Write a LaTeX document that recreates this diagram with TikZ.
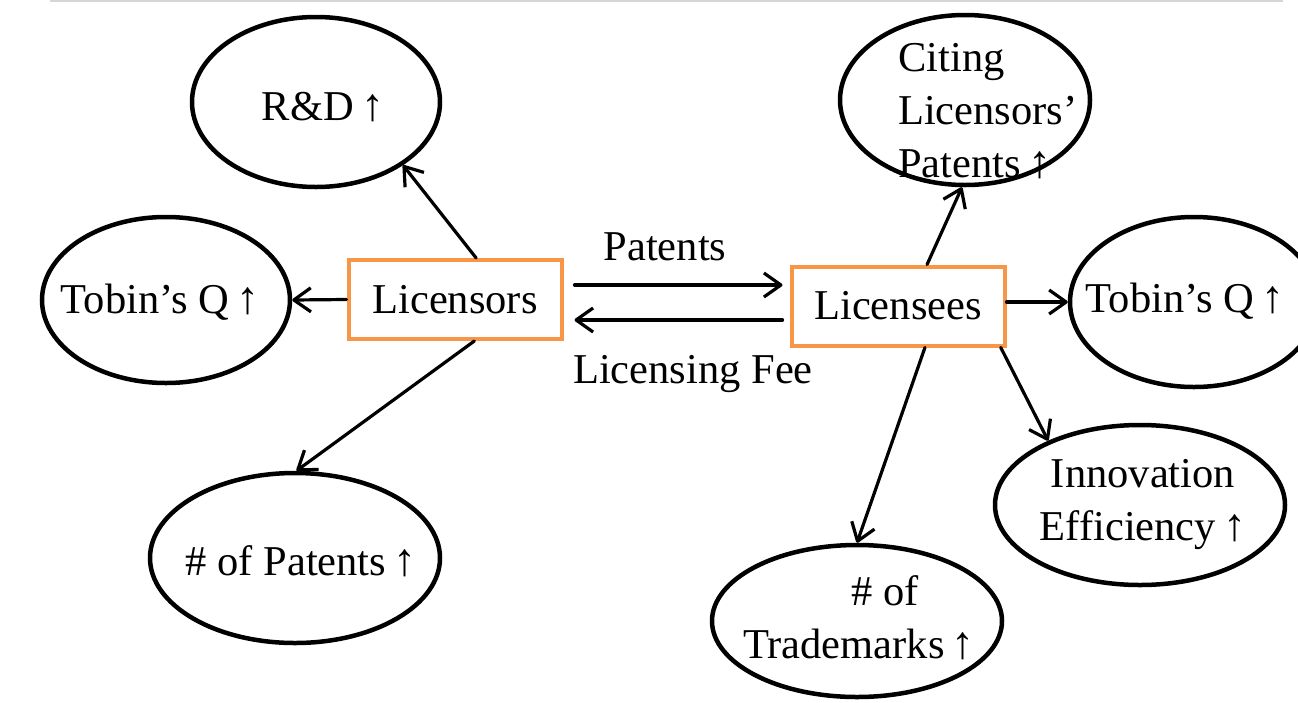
\documentclass[tikz,border=0pt]{standalone}
\usepackage{fontspec}
\setmainfont{Liberation Serif}
\usetikzlibrary{shapes.geometric,arrows.meta}
\definecolor{boxorange}{HTML}{F79646}
\definecolor{rulegray}{HTML}{D6D6D6}
\newcommand{\bigtext}{\fontsize{42.5}{53}\selectfont}
\newcommand{\up}{\,{\fontsize{46}{53}\selectfont↑}}
\tikzset{
  oval/.style 2 args={ellipse, draw, line width=4.5pt, inner sep=0pt,
    minimum width=#1, minimum height=#2},
  txt/.style={font=\bigtext, inner sep=0pt, anchor=base},
  party/.style={draw=boxorange, line width=4pt, inner sep=0pt,
    minimum width=213pt, minimum height=79pt, font=\bigtext},
  arr/.style={line width=3.2pt, line cap=round,
    -{Straight Barb[length=17pt,width=24pt,line join=round]}},
}
\begin{document}
\begin{tikzpicture}[x=1pt,y=-1pt]
\useasboundingbox (0,0) rectangle (1298,702);
\draw[rulegray, line width=2pt] (50,1) -- (1283,1);

% the two parties of the licence
\node[party] (lic) at (455,299.5) {Licensors};
\node[party] (lee) at (898,306) {Licensees};

% outcomes for licensors
\node[oval={248pt}{170pt}] (rd)   at (316,102) {};
\node[oval={248pt}{166pt}] (tobL) at (166,300) {};
\node[oval={290pt}{170pt}] (pat)  at (295,558) {};
\node[txt] (rdT)   at (323,120) {R\&D\up};
\node[txt] (tobLT) at (160,313) {Tobin’s Q\up};
\node[txt] (patT)  at (301,575) {\# of Patents\up};

% outcomes for licensees (multi-line texts sit on their last baseline)
\node[oval={250pt}{170pt}] (cite) at (965,100) {};
\node[oval={248pt}{170pt}] (tobR) at (1194,302) {};
\node[oval={290pt}{160pt}] (inn)  at (1140,505) {};
\node[oval={290pt}{152pt}] (tm)   at (857,621) {};
\node[txt, anchor=base west, align=left] (citeT) at (898,177)
  {Citing\\Licensors’\\Patents\up};
\node[txt] (tobRT) at (1185,312) {Tobin’s Q\up};
\node[txt, align=center] (innT) at (1143,540) {Innovation\\Efficiency\up};
\node[txt, align=center] (tmT) at (859,658) {\hspace*{52pt}\# of\\Trademarks\up};

% exchange between the parties
\draw[arr] ([xshift=11pt,yshift=14.5pt]lic.east) -- ([xshift=-7pt,yshift=21pt]lee.west);
\draw[arr] ([xshift=-7pt,yshift=-14pt]lee.west) -- ([xshift=11pt,yshift=-20.5pt]lic.east);
\node[txt] (patL) at (665,260) {Patents};
\node[txt] (feeL) at (693,383) {Licensing Fee};

% effects on licensors
\draw[arr] (lic.63) -- (rd.-36);
\draw[arr] (lic.west) -- (tobL.east);
\draw[arr] (lic.-65) -- (pat.89);

% effects on licensees
\draw[arr] (lee.55) -- (cite.-92);
\draw[arr] (lee.east |- tobR.west) -- (tobR.west);
\draw[arr] (lee.-57) -- (tm.north);
\draw[arr] (lee.-22) -- (inn.145);
\end{tikzpicture}
\end{document}
